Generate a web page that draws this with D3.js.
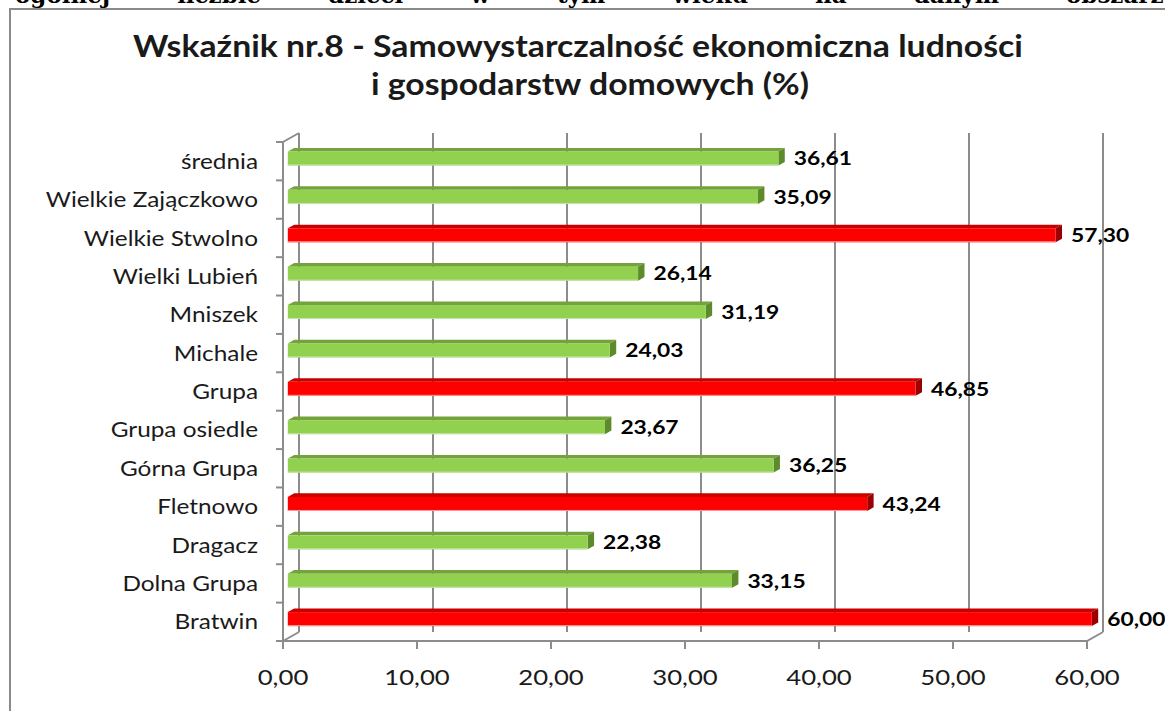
<!DOCTYPE html>
<html>
<head>
<meta charset="utf-8">
<script src="https://cdn.jsdelivr.net/npm/d3@7"></script>
<style>
  body { margin: 0; background: #fff; }
  svg { display: block; }
</style>
</head>
<body>
<div id="chart"></div>
<script>
// chart data, top to bottom as shown
var categories = ["średnia", "Wielkie Zajączkowo", "Wielkie Stwolno", "Wielki Lubień", "Mniszek", "Michale",
  "Grupa", "Grupa osiedle", "Górna Grupa", "Fletnowo", "Dragacz", "Dolna Grupa", "Bratwin"];
var values = [36.61, 35.09, 57.30, 26.14, 31.19, 24.03, 46.85, 23.67, 36.25, 43.24, 22.38, 33.15, 60.00];
var highlighted = [false, false, true, false, false, false, true, false, false, true, false, false, true];
var xTicks = [0, 10, 20, 30, 40, 50, 60];
var titleLines = ["Wskaźnik nr.8 - Samowystarczalność ekonomiczna ludności", "i gospodarstw domowych (%)"];
// the cut-off line of the document page above the chart
var pageWords = ["w", "ogólnej", "liczbie", "dzieci", "w", "tym", "wieku", "na", "danym", "obszarze"];

var W = 1165, H = 711;
var fmt = function(v){ return d3.format(".2f")(v).replace(".", ","); };

var svg = d3.select("#chart").append("svg")
  .attr("width", W).attr("height", H);

// depth of the 3d box: back wall is shifted right/up
var depthX = 16, depthY = -9;
function off(f){ return [depthX * f, depthY * f]; }

var x = d3.scaleLinear().domain([0, 60]).range([283, 1087]);
var y = d3.scaleBand().domain(categories).range([142, 641]).paddingInner(0.635).paddingOuter(0.3175);
var step = y.step();
var floorY = 641, topY = 142;

// text stretched sideways like the picture
function place(sel, px, py, sx){
  sel.attr("transform", function(d, i){
    return "translate(" + px(d, i) + "," + py(d, i) + ") scale(" + sx + ",1)";
  });
}

// ---- page text, only its lower part shows ----
var pageText = svg.append("g")
  .style("font-family", "'DejaVu Serif'")
  .style("font-weight", "bold")
  .style("font-size", "23px")
  .attr("fill", "#000");
var pw = pageText.selectAll("text").data(pageWords).enter().append("text")
  .attr("y", 3)
  .text(function(d){ return d; });
var widths = [];
pw.each(function(){ widths.push(this.getComputedTextLength()); });
var firstX = 15, lastX = 1066;
var mid = d3.sum(widths.slice(1, 9));
var gap = (lastX - firstX - mid) / 8;
var starts = [firstX - gap - widths[0]];
var cx = firstX;
for (var i = 1; i < pageWords.length; i++){ starts.push(cx); cx += widths[i] + gap; }
pw.attr("x", function(d, i){ return starts[i]; });

// ---- outer chart border ----
svg.append("path")
  .attr("d", "M10," + (H + 2) + " L10,9 L" + (W + 2) + ",9")
  .attr("fill", "none")
  .attr("stroke", "#8a8a8a")
  .attr("stroke-width", 2);

// ---- title ----
svg.append("g").selectAll("text").data(titleLines).enter().append("text")
  .attr("text-anchor", "middle")
  .style("font-family", "Lato")
  .style("font-weight", "bold")
  .style("font-size", "31px")
  .attr("fill", "#1a1a1a")
  .text(function(d){ return d; })
  .call(place, function(d, i){ return i == 0 ? 578 : 590; }, function(d, i){ return 57 + i * 38; }, 1.09);

// ---- 3d frame ----
var frame = svg.append("g").attr("stroke", "#8c8c8c").attr("stroke-width", 2).attr("fill", "none");
// back wall gridlines
frame.selectAll("line.grid").data(xTicks).enter().append("line")
  .attr("class", "grid")
  .attr("x1", function(d){ return x(d) + depthX; })
  .attr("x2", function(d){ return x(d) + depthX; })
  .attr("y1", topY + depthY)
  .attr("y2", floorY + depthY);
// left front axis + top diagonal
frame.append("path")
  .attr("d", "M" + (x(0) + depthX) + "," + (topY + depthY) + " L" + x(0) + "," + topY + " L" + x(0) + "," + floorY);
// floor edge + right diagonal
frame.append("path")
  .attr("d", "M" + x(0) + "," + floorY + " L" + x(60) + "," + floorY +
    " L" + (x(60) + depthX) + "," + (floorY + depthY));
frame.append("path")
  .attr("d", "M" + x(0) + "," + floorY + " L" + (x(0) + depthX) + "," + (floorY + depthY));
// category ticks
frame.selectAll("line.ytick").data(d3.range(categories.length + 1)).enter().append("line")
  .attr("class", "ytick")
  .attr("x1", x(0) - 7).attr("x2", x(0))
  .attr("y1", function(i){ return topY + step * i; })
  .attr("y2", function(i){ return topY + step * i; });
// value ticks
frame.selectAll("line.xtick").data(xTicks).enter().append("line")
  .attr("class", "xtick")
  .attr("x1", function(d){ return x(d); }).attr("x2", function(d){ return x(d); })
  .attr("y1", floorY).attr("y2", floorY + 8);

// ---- bars ----
var fF = 0.3, fB = 0.7;
var front = off(fF), back = off(fB);
var cdx = back[0] - front[0], cdy = back[1] - front[1];
var colors = {
  green: { face: "#92d050", top: "#74a33c", side: "#5d8a2b", edge: "#c8e4ad" },
  red:   { face: "#ff0000", top: "#c80000", side: "#9a0000", edge: "#ff9a9a" }
};
svg.append("g").selectAll("g").data(categories).enter().append("g")
  .each(function(c, i){
    var col = highlighted[i] ? colors.red : colors.green;
    var g = d3.select(this);
    var x0 = x(0) + front[0], x1 = x(values[i]) + front[0];
    var y0 = y(c) + front[1], h = y.bandwidth();
    // top face
    g.append("path")
      .attr("d", "M" + x0 + "," + y0 + " L" + (x0 + cdx) + "," + (y0 + cdy) + " L" + (x1 + cdx) + "," + (y0 + cdy) +
        " L" + x1 + "," + y0 + " Z")
      .attr("fill", col.top);
    // end cap
    g.append("path")
      .attr("d", "M" + x1 + "," + y0 + " L" + (x1 + cdx) + "," + (y0 + cdy) + " L" + (x1 + cdx) + "," + (y0 + cdy + h) +
        " L" + x1 + "," + (y0 + h) + " Z")
      .attr("fill", col.side);
    // front face
    g.append("rect")
      .attr("x", x0).attr("y", y0)
      .attr("width", x1 - x0).attr("height", h)
      .attr("fill", col.face);
    g.append("line")
      .attr("x1", x0).attr("x2", x1)
      .attr("y1", y0 + h - 0.5).attr("y2", y0 + h - 0.5)
      .attr("stroke", col.edge).attr("stroke-width", 1);
  });

// ---- value labels ----
svg.append("g").selectAll("text").data(categories).enter().append("text")
  .attr("dy", "0.36em")
  .style("font-family", "Lato")
  .style("font-weight", "bold")
  .style("font-size", "19px")
  .attr("fill", "#000")
  .text(function(d, i){ return fmt(values[i]); })
  .call(place, function(d, i){ return x(values[i]) + back[0] + 9; },
    function(d){ return y(d) + front[1] + y.bandwidth() / 2; }, 1.2);

// ---- category labels ----
svg.append("g").selectAll("text").data(categories).enter().append("text")
  .attr("text-anchor", "end")
  .attr("dy", "0.36em")
  .style("font-family", "Lato")
  .style("font-size", "21px")
  .attr("fill", "#1a1a1a")
  .text(function(d){ return d; })
  .call(place, function(){ return 258; }, function(d){ return y(d) + y.bandwidth() / 2; }, 1.16);

// ---- value axis labels ----
svg.append("g").selectAll("text").data(xTicks).enter().append("text")
  .attr("text-anchor", "middle")
  .attr("dy", "0.36em")
  .style("font-family", "Lato")
  .style("font-size", "22px")
  .attr("fill", "#1a1a1a")
  .text(function(d){ return fmt(d); })
  .call(place, function(d){ return x(d); }, function(){ return 677; }, 1.17);
</script>
</body>
</html>
